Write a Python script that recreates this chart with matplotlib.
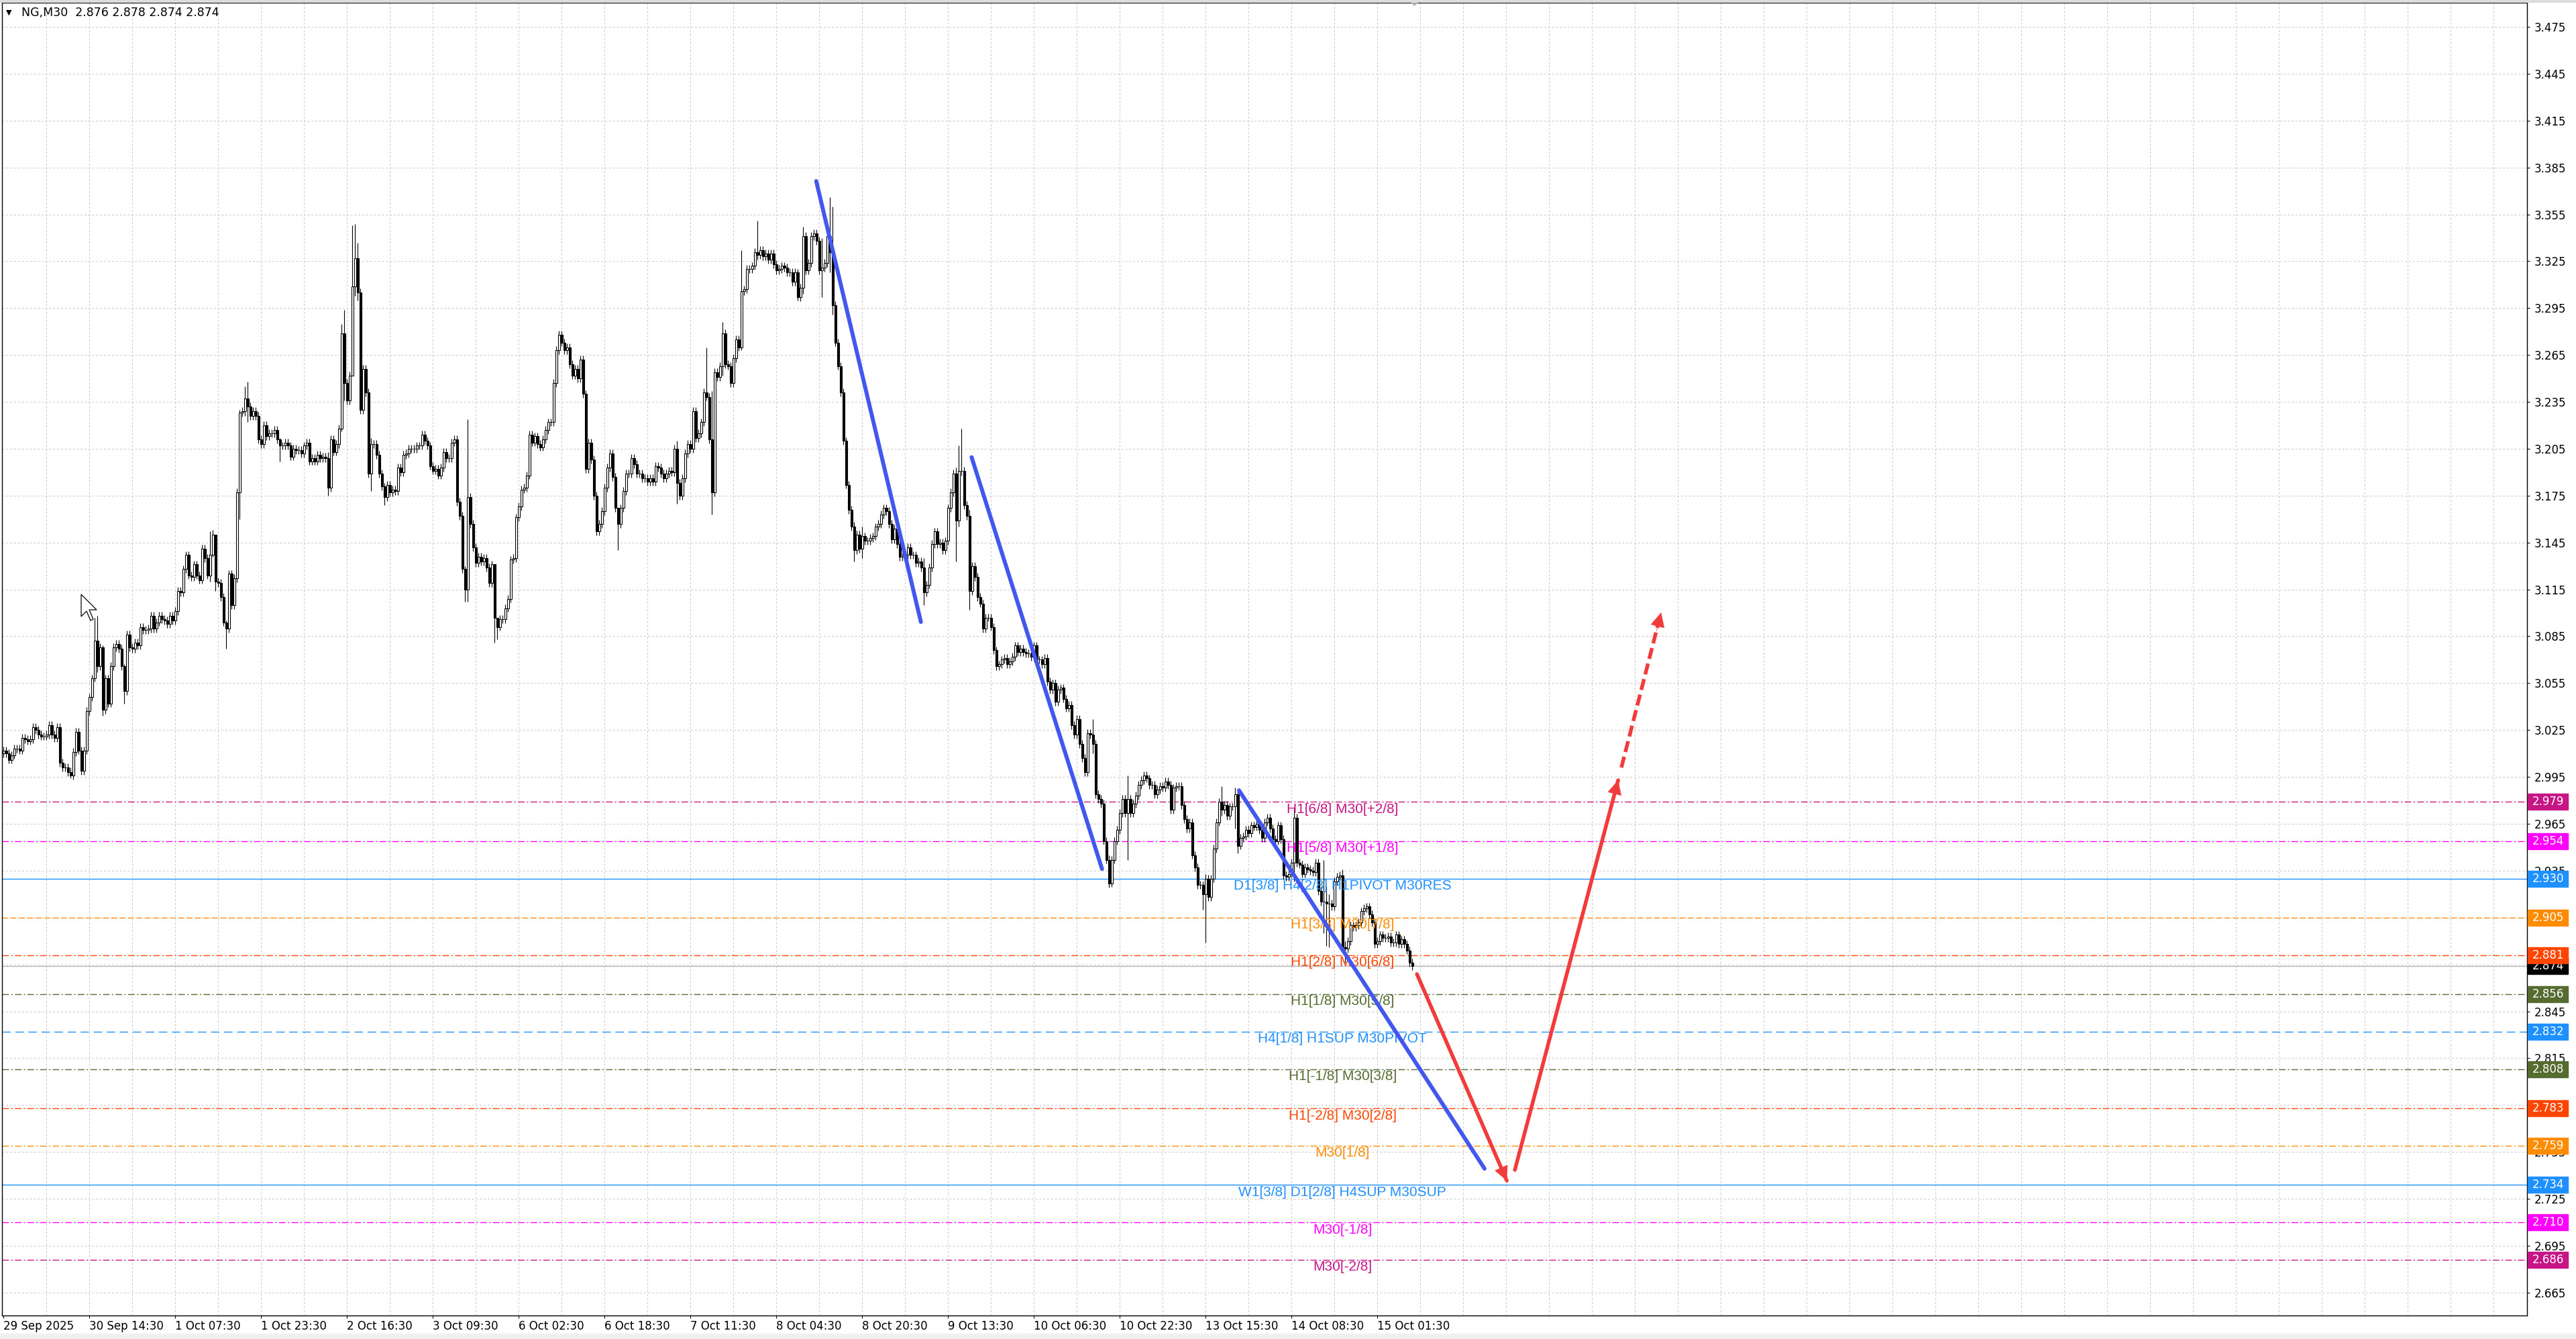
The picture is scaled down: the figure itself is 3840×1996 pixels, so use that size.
import numpy as np
import matplotlib
matplotlib.use("Agg")
import matplotlib.pyplot as plt
import matplotlib.transforms as mtransforms
from matplotlib.patches import Rectangle, Polygon
from matplotlib import font_manager

# M30 closes, one per bar (bar 0 = 29 Sep 2025)
closes = [
    3.012, 3.010, 3.006, 3.009, 3.013, 3.013, 3.012, 3.020, 3.019, 3.018,
    3.019, 3.027, 3.025, 3.022, 3.021, 3.021, 3.022, 3.028, 3.022, 3.020,
    3.027, 3.004, 3.001, 3.001, 2.998, 2.996, 3.011, 3.024, 3.012, 2.999,
    3.012, 3.037, 3.046, 3.058, 3.082, 3.066, 3.078, 3.038, 3.058, 3.042,
    3.066, 3.078, 3.080, 3.077, 3.066, 3.050, 3.086, 3.078, 3.077, 3.081,
    3.079, 3.091, 3.089, 3.089, 3.090, 3.098, 3.090, 3.094, 3.098, 3.096,
    3.095, 3.093, 3.098, 3.095, 3.101, 3.114, 3.113, 3.128, 3.137, 3.124,
    3.123, 3.131, 3.124, 3.121, 3.141, 3.135, 3.124, 3.137, 3.150, 3.120,
    3.119, 3.110, 3.094, 3.090, 3.125, 3.105, 3.122, 3.177, 3.228, 3.229,
    3.237, 3.232, 3.226, 3.229, 3.226, 3.211, 3.208, 3.220, 3.213, 3.215,
    3.215, 3.217, 3.211, 3.207, 3.207, 3.209, 3.207, 3.200, 3.205, 3.204,
    3.204, 3.202, 3.207, 3.209,
    3.197, 3.199, 3.197, 3.201, 3.199, 3.200, 3.199, 3.180, 3.211, 3.203,
    3.208, 3.218, 3.279, 3.247, 3.236, 3.252, 3.309, 3.327, 3.305, 3.230,
    3.256, 3.241, 3.189, 3.208, 3.208, 3.201, 3.189, 3.181, 3.174, 3.182,
    3.177, 3.179, 3.178, 3.193, 3.190, 3.201, 3.202, 3.205, 3.205, 3.205,
    3.207, 3.207, 3.214, 3.210, 3.207, 3.194, 3.191, 3.192, 3.188, 3.193,
    3.203, 3.199, 3.199, 3.209, 3.211, 3.171, 3.162, 3.128, 3.115, 3.174,
    3.157, 3.142, 3.132, 3.136, 3.133, 3.135, 3.129, 3.119, 3.131, 3.097,
    3.091, 3.096, 3.096, 3.103, 3.109, 3.134, 3.135, 3.161, 3.168, 3.179,
    3.180, 3.188, 3.214, 3.209, 3.213, 3.208, 3.206, 3.211, 3.217, 3.222,
    3.222, 3.247, 3.268, 3.278, 3.273, 3.268, 3.270, 3.259, 3.252, 3.256,
    3.250, 3.262, 3.240, 3.192, 3.209,
    3.198, 3.175, 3.152, 3.157, 3.165, 3.180, 3.193, 3.202, 3.187, 3.167,
    3.157, 3.167, 3.178, 3.189, 3.189, 3.199, 3.195, 3.189, 3.189, 3.186,
    3.186, 3.184, 3.186, 3.184, 3.194, 3.193, 3.189, 3.186, 3.189, 3.191,
    3.190, 3.205, 3.183, 3.175, 3.186, 3.202, 3.208, 3.205, 3.229, 3.212,
    3.215, 3.222, 3.241, 3.238, 3.211, 3.177, 3.254, 3.251, 3.258, 3.279,
    3.259, 3.258, 3.247, 3.263, 3.275, 3.270, 3.306, 3.307, 3.320, 3.320,
    3.322, 3.331, 3.329, 3.332, 3.328, 3.330, 3.326, 3.330, 3.323, 3.319,
    3.320, 3.322, 3.321, 3.318, 3.318, 3.312, 3.318, 3.302, 3.308, 3.341,
    3.319, 3.324, 3.341, 3.343, 3.338, 3.319, 3.321, 3.324, 3.341, 3.331,
    3.297, 3.273, 3.258, 3.241, 3.210, 3.182, 3.166, 3.155, 3.140, 3.150,
    3.141, 3.149, 3.146, 3.146, 3.148, 3.149, 3.155, 3.157, 3.163, 3.167,
    3.165, 3.157, 3.147, 3.154, 3.144, 3.136, 3.136, 3.137, 3.142, 3.137,
    3.137, 3.132, 3.133, 3.129, 3.113, 3.118, 3.129, 3.144, 3.152, 3.144,
    3.145, 3.140, 3.146, 3.167, 3.177, 3.189, 3.159, 3.191, 3.191, 3.169,
    3.162, 3.114, 3.130, 3.123, 3.110, 3.106, 3.090, 3.097, 3.097, 3.091,
    3.076, 3.066, 3.067, 3.070, 3.071, 3.067, 3.069, 3.072, 3.079, 3.075,
    3.077, 3.075, 3.074, 3.074, 3.072, 3.079, 3.070, 3.070, 3.067, 3.071,
    3.056, 3.051, 3.055, 3.043, 3.051, 3.052, 3.045, 3.039, 3.041, 3.028,
    3.022, 3.032, 3.016, 3.007, 2.998, 3.023, 3.022, 3.016, 2.984, 2.981,
    2.978, 2.954, 2.942, 2.927, 2.942, 2.954, 2.961, 2.972, 2.981, 2.972,
    2.981, 2.972, 2.978, 2.983, 2.990, 2.993, 2.996, 2.994, 2.990, 2.990,
    2.984, 2.987, 2.989, 2.988, 2.992, 2.990, 2.974, 2.988, 2.989, 2.989,
    2.977, 2.968, 2.962, 2.966,
    2.945, 2.937, 2.926, 2.926, 2.920, 2.930,
    2.918, 2.930, 2.949, 2.966, 2.979, 2.974, 2.977, 2.970, 2.976, 2.976,
    2.984, 2.951, 2.956, 2.957, 2.961, 2.959, 2.964, 2.963, 2.965, 2.961,
    2.956, 2.966, 2.969, 2.962, 2.955, 2.954, 2.964, 2.955, 2.932, 2.931,
    2.933, 2.940, 2.969, 2.940, 2.939, 2.933, 2.937, 2.936, 2.935, 2.934,
    2.940, 2.922, 2.915, 2.915, 2.914, 2.914, 2.912, 2.928, 2.931, 2.932,
    2.886, 2.885, 2.890, 2.900, 2.899, 2.900, 2.902, 2.909, 2.911, 2.912,
    2.907, 2.902, 2.888, 2.890, 2.894, 2.892, 2.892, 2.893, 2.889, 2.889,
    2.894, 2.888, 2.891, 2.888, 2.884, 2.876, 2.874,
]

# bars with long shadows: index, high, low
spike_bars = [25, 34, 35, 37, 45, 77, 78, 79, 83, 88, 90, 91, 103, 121, 126,
              127, 130, 131, 132, 137, 142, 172, 173, 183, 184, 229, 251, 262,
              264, 268, 275, 281, 296, 298, 305, 308, 309, 317, 320, 343, 355,
              356, 357, 360, 406, 412, 419, 447, 448, 454, 459, 460, 481, 492,
              493, 494, 499, 500]
spike_highs = [3.001, 3.097, 3.098, 3.079, 3.067, 3.152, 3.153, 3.150, 3.095,
               3.230, 3.245, 3.248, 3.212, 3.203, 3.285, 3.294, 3.348, 3.349,
               3.337, 3.212, 3.183, 3.130, 3.224, 3.131, 3.097, 3.167, 3.210,
               3.270, 3.242, 3.286, 3.332, 3.351, 3.320, 3.347, 3.340, 3.366,
               3.360, 3.158, 3.155, 3.135, 3.193, 3.207, 3.218, 3.166, 3.032,
               2.945, 2.996, 2.928, 2.933, 2.989, 2.988, 2.986, 2.975, 2.942,
               2.925, 2.920, 2.936, 2.890]
spike_lows = [2.994, 3.056, 3.062, 3.034, 3.042, 3.120, 3.136, 3.114, 3.077,
              3.160, 3.226, 3.222, 3.197, 3.175, 3.216, 3.236, 3.252, 3.303,
              3.300, 3.178, 3.169, 3.107, 3.107, 3.081, 3.083, 3.140, 3.170,
              3.236, 3.163, 3.252, 3.268, 3.326, 3.300, 3.304, 3.302, 3.318,
              3.291, 3.133, 3.135, 3.105, 3.133, 3.155, 3.188, 3.102, 3.010,
              2.924, 2.942, 2.910, 2.889, 2.970, 2.962, 2.946, 2.928, 2.895,
              2.887, 2.886, 2.885, 2.876]

date_labels = ['29 Sep 2025', '30 Sep 14:30', '1 Oct 07:30', '1 Oct 23:30',
               '2 Oct 16:30', '3 Oct 09:30', '6 Oct 02:30', '6 Oct 18:30',
               '7 Oct 11:30', '8 Oct 04:30', '8 Oct 20:30', '9 Oct 13:30',
               '10 Oct 06:30', '10 Oct 22:30', '13 Oct 15:30', '14 Oct 08:30',
               '15 Oct 01:30']

level_prices = [2.979, 2.954, 2.930, 2.905, 2.881, 2.856, 2.832, 2.808,
                2.783, 2.759, 2.734, 2.710, 2.686]
level_names = ['H1[6/8] M30[+2/8]', 'H1[5/8] M30[+1/8]',
               'D1[3/8] H4[2/8] H1PIVOT M30RES', 'H1[3/8] M30[7/8]',
               'H1[2/8] M30[6/8]', 'H1[1/8] M30[5/8]',
               'H4[1/8] H1SUP M30PIVOT', 'H1[-1/8] M30[3/8]',
               'H1[-2/8] M30[2/8]', 'M30[1/8]',
               'W1[3/8] D1[2/8] H4SUP M30SUP', 'M30[-1/8]', 'M30[-2/8]']
level_colors = ['#C71585', '#FF00FF', '#1E90FF', '#FF8C00', '#FF4500',
                '#556B2F', '#1E90FF', '#556B2F', '#FF4500', '#FF8C00',
                '#1E90FF', '#FF00FF', '#C71585']
level_styles = ['dashdot', 'dashdot', 'solid', 'dash', 'dashdot', 'dashdot',
                'longdash', 'dashdot', 'dashdot', 'dashdot', 'solid',
                'dashdot', 'dashdot']

# hand drawn objects (bar index, price)
blue_lines = [(302.85, 3.3763, 341.85, 3.0942),
              (360.75, 3.1996, 409.35, 2.9361),
              (460.4, 2.9864, 551.9, 2.7443)]
red_down = (526.7, 2.8688, 560.2, 2.7366)
red_up = (563.2, 2.7435, 601.7, 2.9929)
red_dash = (602.9, 3.0010, 617.7, 3.1002)

last_price = 2.874
header = 'NG,M30  2.876 2.878 2.874 2.874'

W, H = 3840, 1996
names = {f.name for f in font_manager.fontManager.ttflist}
if 'DejaVu Sans Condensed' in names:
    axfont, axsize = 'DejaVu Sans Condensed', 13.5
else:
    axfont, axsize = 'DejaVu Sans', 12
lblfont = 'Liberation Sans' if 'Liberation Sans' in names else 'DejaVu Sans'

fig = plt.figure(figsize=(W / 100, H / 100), dpi=100)
fig.patch.set_facecolor('white')
ax = fig.add_axes([3 / W, 1 - 1961 / H, (3767 - 3) / W, (1961 - 4) / H])
ax.set_xlim(-0.58, 940.4)
ax.set_ylim(2.6503, 3.4905)
for s in ax.spines.values():
    s.set_color('black')
    s.set_linewidth(1.0)

# grid
yticks = [round(2.665 + 0.03 * k, 3) for k in range(28)]
for y in yticks:
    ax.axhline(y, color='#c8c8c8', lw=0.7, ls=(0, (3, 3)), zorder=0.5)
for b in range(16, 941, 16):
    ax.axvline(b, color='#c8c8c8', lw=0.7, ls=(0, (3, 3)), zorder=0.5)

# levels
dash_map = {'solid': '-', 'dashdot': (0, (7, 2.5, 1.5, 2.5)),
            'dash': (0, (6, 3)), 'longdash': (0, (9, 5))}
for p, nm, c, st in zip(level_prices, level_names, level_colors, level_styles):
    ax.axhline(p, color=c, lw=1.0, ls=dash_map[st], zorder=1.5)
    ax.annotate(nm, xy=(499, p), xytext=(0, -8), textcoords='offset points',
                ha='center', va='center', color=c, fontsize=15,
                family=lblfont, zorder=4)
ax.axhline(last_price, color='#b4b4b4', lw=1.0, zorder=1.6)

# candles
c = np.array(closes)
o = np.concatenate([[3.010], c[:-1]])
x = np.arange(len(c))
hi = np.maximum(o, c) + 0.0025
lo = np.minimum(o, c) - 0.0025
for b, h, l in zip(spike_bars, spike_highs, spike_lows):
    hi[b] = max(h, o[b], c[b])
    lo[b] = min(l, o[b], c[b])
ax.vlines(x, lo, hi, color='black', lw=0.8, zorder=3)
up = c >= o
ax.bar(x[up], (c - o)[up], bottom=o[up], width=0.6, color='white',
       edgecolor='black', linewidth=0.8, zorder=3.1)
ax.bar(x[~up], (c - o)[~up], bottom=o[~up], width=0.6, color='black',
       edgecolor='black', linewidth=0.8, zorder=3.1)

# trend lines and arrows
blue = '#4157EE'
red = '#F23C3C'
for x0, y0, x1, y1 in blue_lines:
    ax.plot([x0, x1], [y0, y1], color=blue, lw=4.3, solid_capstyle='round',
            zorder=5)
ax.plot(red_down[0::2], red_down[1::2], color=red, lw=4.0,
        solid_capstyle='round', zorder=5)
ax.plot(red_up[0::2], red_up[1::2], color=red, lw=4.0,
        solid_capstyle='round', zorder=5)
ax.plot(red_dash[0::2], red_dash[1::2], color=red, lw=4.0,
        ls=(0, (3.0, 1.3)), zorder=5)
for seg in (red_down, red_up, red_dash):
    x0, y0, x1, y1 = seg
    ax.annotate('', xy=(x1, y1), xytext=(x1 - (x1 - x0) * 0.12,
                                          y1 - (y1 - y0) * 0.12),
                arrowprops=dict(arrowstyle='-|>', color=red, lw=0.5,
                                mutation_scale=36, shrinkA=0, shrinkB=0),
                zorder=5)

# axes ticks
ax.yaxis.tick_right()
ax.set_yticks(yticks)
ax.set_yticklabels(['%.3f' % v for v in yticks], fontsize=axsize,
                   family=axfont)
ax.set_xticks(np.arange(0, 32 * len(date_labels), 32))
ax.set_xticklabels(date_labels, fontsize=axsize, family=axfont, ha='left')
ax.tick_params(axis='y', direction='out', length=3, width=0.8, pad=5)
ax.tick_params(axis='x', direction='out', length=3, width=0.8, pad=2)

# price tags on the right scale
blend = mtransforms.blended_transform_factory(ax.transAxes, ax.transData)
axw = 3764.0
pxp = 2329.3
tags = [(last_price, 'black')] + list(zip(level_prices, level_colors))
for i, (p, col) in enumerate(tags):
    z = 6 if i == 0 else 7
    ax.add_patch(Rectangle((1 + 1 / axw, p - 12 / pxp), 60 / axw, 24 / pxp,
                           transform=blend, clip_on=False, color=col,
                           zorder=z))
    ax.text(1 + 8 / axw, p, '%.3f' % p, transform=blend, clip_on=False,
            color='white', fontsize=axsize, family=axfont, va='center',
            ha='left', zorder=z + 0.5)

# header
fig.text(9 / W, 1 - 19 / H, '\u25bc', fontsize=8, va='center', ha='left')
fig.text(32 / W, 1 - 19 / H, header, fontsize=axsize + 0.5, family=axfont,
         va='center', ha='left')

# window bits: shift marker, mouse pointer, frame
def px(pts):
    return [(a / W, 1 - b / H) for a, b in pts]

fig.patches.append(Polygon(px([(2100, 0), (2117, 0), (2108.5, 8)]),
                           closed=True, color='#a8a8a8',
                           transform=fig.transFigure, zorder=10))
tip = (121, 886)
cur = [(0, 0), (0, 33), (8, 25), (14, 39), (18, 37), (12, 23), (23, 23)]
fig.patches.append(Polygon(px([(tip[0] + a, tip[1] + b) for a, b in cur]),
                           closed=True, facecolor='white', edgecolor='black',
                           lw=0.9, transform=fig.transFigure, zorder=10))
fig.patches.append(Rectangle((0, 1 - 3 / H), 1, 3 / H, color='#dcdcdc',
                             transform=fig.transFigure, zorder=10))
fig.patches.append(Rectangle((0, 0), 1, 8 / H, color='#f0f0f0',
                             transform=fig.transFigure, zorder=10))

fig.savefig('out.png', dpi=100)
